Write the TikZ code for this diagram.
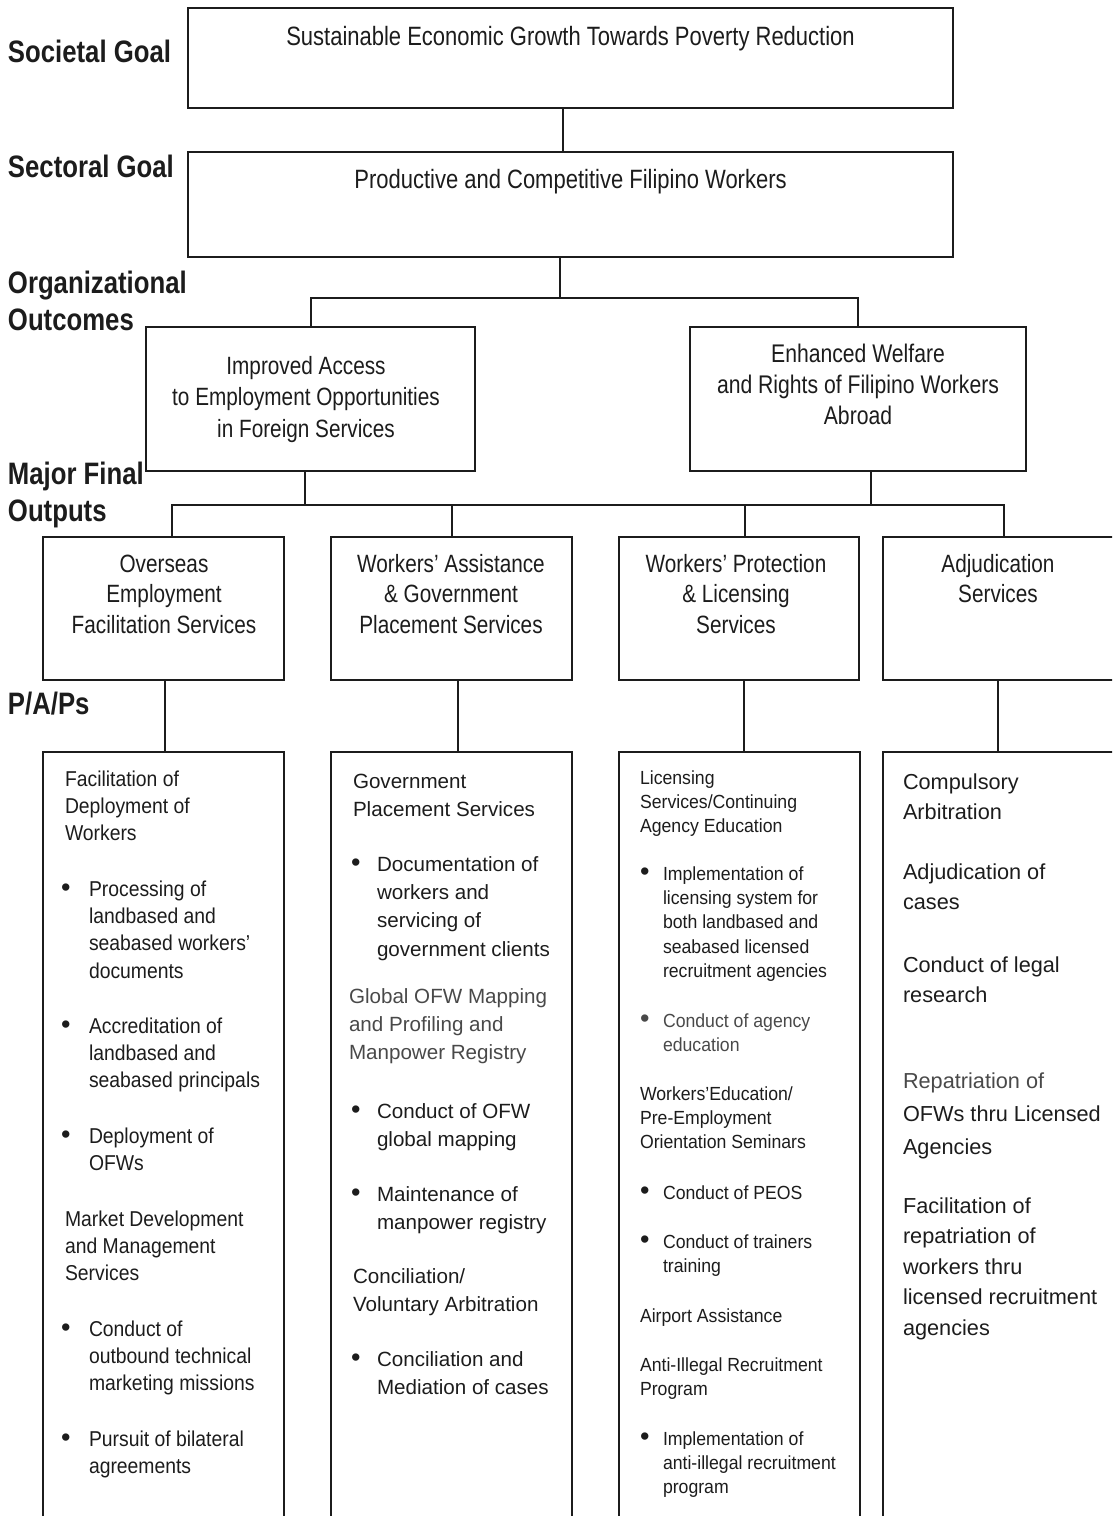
\documentclass[tikz,border=0pt]{standalone}
\usepackage{fontspec}
\setmainfont{Liberation Sans}
\newfontfamily\fN{Liberation Sans}[FakeStretch=0.83]
\newfontfamily\fA{Liberation Sans}[FakeStretch=0.9]
\newfontfamily\fC{Liberation Sans}[FakeStretch=0.93]
\definecolor{ink}{RGB}{28,28,28}
\newcommand\clines[1]{\vtop{\lineskiplimit=-100pt\lineskip=0pt\halign{\hfil##\hfil\cr#1\crcr}}}
\newcommand\llines[1]{\vtop{\lineskiplimit=-100pt\lineskip=0pt\halign{##\hfil\cr#1\crcr}}}
\newcommand\bdot{\raisebox{-0.8pt}{\rmfamily\fontsize{27}{27}\selectfont\textbullet}}
\newcommand\bul[2]{\hbox{\hbox to #1{\bdot\hss}\llines{#2}}}
\tikzset{
  box/.style={draw=ink, line width=2pt, rectangle, inner sep=0pt, outer sep=0pt, anchor=north west},
  conn/.style={draw=ink, line width=2pt},
  txt/.style={inner sep=0pt, outer sep=0pt, text=ink},
  lbl/.style={txt, anchor=base west, font=\fN\bfseries\fontsize{31}{37}\selectfont},
  toptxt/.style={txt, anchor=base, font=\fN\fontsize{26.5}{31}\selectfont},
  orgtxt/.style={txt, anchor=base, font=\fN\fontsize{25.5}{31}\selectfont},
  mfotxt/.style={txt, anchor=base, font=\fN\fontsize{25}{30.5}\selectfont},
  coltA/.style={txt, anchor=base west, font=\fA\fontsize{21.5}{27.45}\selectfont},
  coltB/.style={txt, anchor=base west, font=\fontsize{20.6}{28.4}\selectfont},
  coltC/.style={txt, anchor=base west, font=\fC\fontsize{19}{24.45}\selectfont},
  coltD/.style={txt, anchor=base west, font=\fontsize{21.7}{30.5}\selectfont},
}
\begin{document}
\begin{tikzpicture}[x=1pt,y=-1pt]
\useasboundingbox (0,0) rectangle (1112,1516);
\clip (0,0) rectangle (1112,1516);

% ---------- boxes ----------
\node[box, minimum width=765pt, minimum height=100pt] (soc) at (188,8) {};
\node[box, minimum width=765pt, minimum height=105pt] (sec) at (188,152) {};
\node[box, minimum width=329pt, minimum height=144pt] (o1) at (146,327) {};
\node[box, minimum width=336pt, minimum height=144pt] (o2) at (690,327) {};
\node[box, minimum width=241pt, minimum height=143pt] (fA) at (43,537) {};
\node[box, minimum width=241pt, minimum height=143pt] (fB) at (331,537) {};
\node[box, minimum width=240pt, minimum height=143pt] (fC) at (619,537) {};
\node[box, minimum width=240pt, minimum height=143pt] (fD) at (883,537) {};
\node[box, minimum width=241pt, minimum height=800pt] (pA) at (43,752) {};
\node[box, minimum width=241pt, minimum height=800pt] (pB) at (331,752) {};
\node[box, minimum width=241pt, minimum height=800pt] (pC) at (619,752) {};
\node[box, minimum width=240pt, minimum height=800pt] (pD) at (883,752) {};

% ---------- connectors ----------
\coordinate (k1) at (563,0);
\draw[conn] (k1 |- soc.south) -- (k1 |- sec.north);
\coordinate (ob) at (560,298);
\draw[conn] (sec.south -| ob) -- (ob);
\draw[conn] (o1.north) -- (o1.north |- ob) -- (o2.north |- ob) -- (o2.north);
\coordinate (m1) at (305,505);
\coordinate (m2) at (871,505);
\draw[conn] (o1.south -| m1) -- (m1);
\draw[conn] (o2.south -| m2) -- (m2);
\coordinate (dA) at (172,505);
\coordinate (dB) at (452,505);
\coordinate (dC) at (745,505);
\coordinate (dD) at (1004,505);
\draw[conn] (dA |- fA.north) -- (dA) -- (dD) -- (dD |- fD.north);
\draw[conn] (dB) -- (dB |- fB.north);
\draw[conn] (dC) -- (dC |- fC.north);
\coordinate (eA) at (165,0);
\coordinate (eB) at (458,0);
\coordinate (eC) at (744,0);
\coordinate (eD) at (998,0);
\draw[conn] (eA |- fA.south) -- (eA |- pA.north);
\draw[conn] (eB |- fB.south) -- (eB |- pB.north);
\draw[conn] (eC |- fC.south) -- (eC |- pC.north);
\draw[conn] (eD |- fD.south) -- (eD |- pD.north);

% ---------- level labels ----------
\node[lbl] (lsoc) at (8,62) {Societal Goal};
\node[lbl] (lsec) at (8,177) {Sectoral Goal};
\node[lbl] (lorg) at (8,293) {\llines{Organizational\cr Outcomes}};
\node[lbl] (lmfo) at (8,484) {\llines{Major Final\cr Outputs}};
\node[lbl] (lpap) at (8,714) {P/A/Ps};

% ---------- goal / outcome / output texts ----------
\node[toptxt] (tsoc) at (570.5,45) {Sustainable Economic Growth Towards Poverty Reduction};
\node[toptxt] (tsec) at (570.5,188) {Productive and Competitive Filipino Workers};
\node[orgtxt, font=\fN\fontsize{25}{31.5}\selectfont] (to1) at (306,374) {\clines{Improved Access\cr to Employment Opportunities\cr in Foreign Services}};
\node[orgtxt] (to2) at (858,362) {\clines{Enhanced Welfare\cr and Rights of Filipino Workers\cr Abroad}};
\node[mfotxt] (tfA) at (164,572) {\clines{Overseas\cr Employment\cr Facilitation Services}};
\node[mfotxt] (tfB) at (451,572) {\clines{Workers’ Assistance\cr \& Government\cr Placement Services}};
\node[mfotxt] (tfC) at (736,572) {\clines{Workers’ Protection\cr \& Licensing\cr Services}};
\node[mfotxt] (tfD) at (998,572) {\clines{Adjudication\cr Services}};

% ---------- column A ----------
\node[coltA] (a1) at (65,786) {\llines{Facilitation of\cr Deployment of\cr Workers}};
\node[coltA] (a2) at (61,896) {\bul{28pt}{Processing of\cr landbased and\cr seabased workers’\cr documents}};
\node[coltA] (a3) at (61,1033) {\bul{28pt}{Accreditation of\cr landbased and\cr seabased principals}};
\node[coltA] (a4) at (61,1143) {\bul{28pt}{Deployment of\cr OFWs}};
\node[coltA] (a5) at (65,1226) {\llines{Market Development\cr and Management\cr Services}};
\node[coltA] (a6) at (61,1336) {\bul{28pt}{Conduct of\cr outbound technical\cr marketing missions}};
\node[coltA] (a7) at (61,1446) {\bul{28pt}{Pursuit of bilateral\cr agreements}};

% ---------- column B ----------
\node[coltB] (b1) at (353,788) {\llines{Government\cr Placement Services}};
\node[coltB] (b2) at (351,871) {\bul{26pt}{Documentation of\cr workers and\cr servicing of\cr government clients}};
\node[coltB, text=ink!80] (b3) at (349,1003) {\llines{Global OFW Mapping\cr and Profiling and\cr Manpower Registry}};
\node[coltB] (b4) at (351,1118) {\bul{26pt}{Conduct of OFW\cr global mapping}};
\node[coltB] (b5) at (351,1201) {\bul{26pt}{Maintenance of\cr manpower registry}};
\node[coltB] (b6) at (353,1283) {\llines{Conciliation/\cr Voluntary Arbitration}};
\node[coltB] (b7) at (351,1366) {\bul{26pt}{Conciliation and\cr Mediation of cases}};

% ---------- column C ----------
\node[coltC] (c1) at (640,784) {\llines{Licensing\cr Services/Continuing\cr Agency Education}};
\node[coltC] (c2) at (640,880) {\bul{23pt}{Implementation of\cr licensing system for\cr both landbased and\cr seabased licensed\cr recruitment agencies}};
\node[coltC, text=ink!80] (c3) at (640,1027) {\bul{23pt}{Conduct of agency\cr education}};
\node[coltC] (c4) at (640,1100) {\llines{Workers’Education/\cr Pre-Employment\cr Orientation Seminars}};
\node[coltC] (c5) at (640,1199) {\bul{23pt}{Conduct of PEOS}};
\node[coltC] (c6) at (640,1248) {\bul{23pt}{Conduct of trainers\cr training}};
\node[coltC] (c7) at (640,1322) {Airport Assistance};
\node[coltC] (c8) at (640,1371) {\llines{Anti-Illegal Recruitment\cr Program}};
\node[coltC] (c9) at (640,1445) {\bul{23pt}{Implementation of\cr anti-illegal recruitment\cr program}};

% ---------- column D ----------
\node[coltD] (d1) at (903,789) {\llines{Compulsory\cr Arbitration}};
\node[coltD] (d2) at (903,879) {\llines{Adjudication of\cr cases}};
\node[coltD] (d3) at (903,972) {\llines{Conduct of legal\cr research}};
\node[coltD, font=\fontsize{21.7}{33}\selectfont] (d4) at (903,1088) {\llines{{\color{ink!80}Repatriation of}\cr OFWs thru Licensed\cr Agencies}};
\node[coltD] (d5) at (903,1213) {\llines{Facilitation of\cr repatriation of\cr workers thru\cr licensed recruitment\cr agencies}};
\end{tikzpicture}
\end{document}
